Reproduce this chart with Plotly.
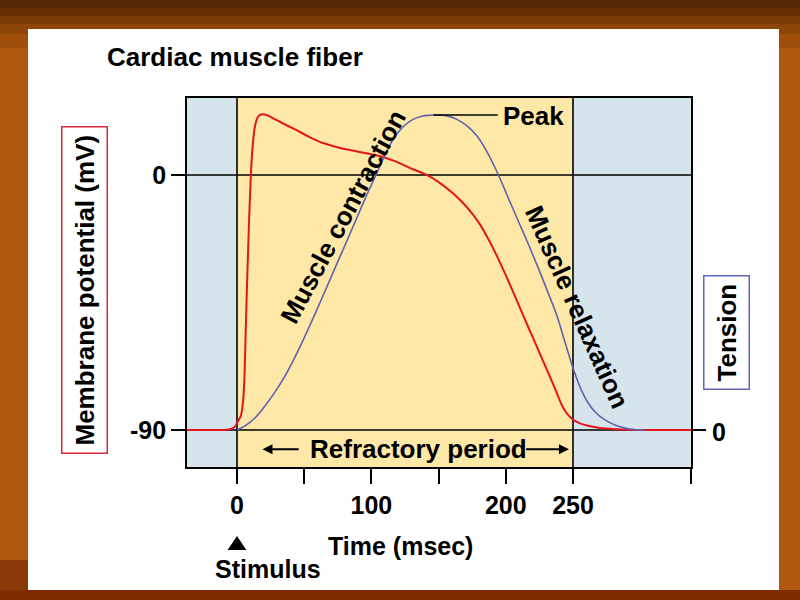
import plotly.graph_objects as go

# ---------------- data ----------------
mp_time = [-40, -20, -10, -6, -3, -1, 0, 1.5, 3, 4.5, 5.5, 6.5, 7.5, 9, 10.5, 12, 13.5, 15, 17, 20,
           23, 27, 35, 44, 54, 64, 74, 84, 95, 106, 118, 130, 140, 150, 160, 168, 175, 181, 187,
           193, 199, 205, 211, 217, 223, 229, 234, 238, 241, 244, 247, 250, 254, 258, 263, 268, 275,
           282, 292, 305, 340]
mp_values = [-90, -90, -90, -89.8, -89.3, -88.5, -87.5, -86.3, -84.8, -80, -72, -55, -38, -16, 2, 12,
             17.5, 20, 21.2, 21.4, 21, 20, 18, 15.9, 13.4, 11.3, 9.9, 8.8, 7.8, 6.7, 4.8, 2.2, 0.3,
             -2.5, -6.2, -9.8, -13.6, -17.6, -22.6, -28.2, -34.3, -40.8, -47.4, -54, -60.5, -67,
             -72.5, -77, -80.5, -83.2, -85, -86.3, -87.4, -88.1, -88.7, -89.1, -89.5, -89.7, -89.9,
             -90, -90]

tension_time = [0, 5.9, 13.4, 20.8, 28.3, 35.7, 43.2, 50.6, 58.0, 65.5, 72.9, 80.4, 87.8, 95.2, 102.7,
                108.6, 113.8, 119.0, 125.0, 131.0, 137.6, 143.6, 148.8, 156.3, 163.7, 171.1, 178.6,
                186.0, 193.5, 200.9, 208.3, 215.8, 223.2, 230.7, 238.1, 244.0, 250.0, 255.2, 260.4,
                266.4, 273.8, 281.3, 288.7, 296.1, 303.6]
tension_values = [0, 1.3, 3.8, 7.6, 12.1, 17.1, 23.2, 29.8, 36.8, 44.1, 51.4, 58.7, 66.0, 73.3, 80.3,
                  86.0, 90.5, 94.0, 96.8, 98.6, 99.6, 99.9, 100, 99.7, 98.6, 96.5, 93.3, 88.3, 81.9,
                  74.6, 67.3, 60.0, 52.4, 44.4, 36.2, 27.9, 19.7, 13.7, 9.2, 5.7, 3.2, 1.6, 0.6,
                  0.1, 0]

x_tickvals = [0, 50, 100, 150, 200, 250]
x_ticktext = ["0", "", "100", "", "200", "250"]
mp_tickvals = [0, -90]
mp_ticktext = ["0", "-90"]
stimulus_time = 0

# ---------------- layout geometry ----------------
W, H = 800, 600
L, R, T, B = 187, 691, 98, 467
X_RANGE = [-37.2, 337.8]
Y_RANGE = [-103.06, 27.18]
# tension axis: 0 aligned with -90 mV, 100 aligned with peak (~21.2 mV)
mv_per_unit = (21.2 + 90) / 100.0
Y2_RANGE = [(Y_RANGE[0] + 90) / mv_per_unit, (Y_RANGE[1] + 90) / mv_per_unit]

def px(xp):
    return (xp - L) / (R - L)

def py(yp):
    return (B - yp) / (B - T)

FONT = "Liberation Sans, Arial, Helvetica, sans-serif"
YELLOW = "#fde8a8"
LBLUE = "#d6e4ec"
RED = "#e3151f"
BLUE = "#6262b0"

fig = go.Figure()
fig.add_trace(go.Scatter(x=mp_time, y=mp_values, mode="lines",
                         line=dict(color=RED, width=2, shape="spline", smoothing=0.5),
                         hoverinfo="skip", showlegend=False))
fig.add_trace(go.Scatter(x=tension_time, y=tension_values, mode="lines", yaxis="y2",
                         line=dict(color=BLUE, width=1.6, shape="spline", smoothing=1),
                         hoverinfo="skip", showlegend=False))

shapes = []
def prect(x0, y0, x1, y1, color):
    shapes.append(dict(type="rect", xref="paper", yref="paper", x0=px(x0), x1=px(x1),
                       y0=py(y1), y1=py(y0), fillcolor=color, line=dict(width=0), layer="below"))

# slide background
prect(-5, -5, 805, 605, "#b1580f")
prect(-5, -5, 805, 8, "#552703")
prect(-5, 8, 805, 16, "#663005")
prect(-5, 16, 805, 24, "#7a3a06")
prect(-5, 24, 805, 34, "#8d4508")
prect(-5, 34, 805, 48, "#a04f0b")
prect(-5, 560, 28, 605, "#8a3a06")
prect(-5, 590, 805, 605, "#7f2c02")
prect(28, 29, 779, 590, "#ffffff")

# plot regions
for x0, x1, c in [(X_RANGE[0], 0, LBLUE), (0, 250, YELLOW), (250, X_RANGE[1], LBLUE)]:
    shapes.append(dict(type="rect", xref="x", yref="paper", x0=x0, x1=x1, y0=0, y1=1,
                       fillcolor=c, line=dict(width=0), layer="below"))
for xv in [0, 250]:
    shapes.append(dict(type="line", xref="x", yref="paper", x0=xv, x1=xv, y0=0, y1=1,
                       line=dict(color="black", width=1.6), layer="below"))
shapes.append(dict(type="line", xref="paper", yref="y", x0=0, x1=1, y0=0, y1=0,
                   line=dict(color="black", width=1.6), layer="below"))
shapes.append(dict(type="line", xref="paper", yref="y", x0=0, x1=1, y0=-90, y1=-90,
                   line=dict(color="black", width=1.6), layer="below"))
# peak leader line
shapes.append(dict(type="line", xref="x", yref="y", x0=146, x1=194, y0=21.2, y1=21.2,
                   line=dict(color="black", width=1.6)))
# stimulus triangle
s = stimulus_time
shapes.append(dict(type="path", xref="x", yref="paper",
                   path=f"M {s - 7},{py(550)} L {s + 7},{py(550)} L {s},{py(536)} Z",
                   fillcolor="black", line=dict(width=0)))

annotations = []
def ann(text, x, y, size=26, xanchor="center", yanchor="middle", **kw):
    d = dict(text=text, x=x, y=y, xref="paper", yref="paper", showarrow=False,
             xanchor=xanchor, yanchor=yanchor,
             font=dict(family=FONT, size=size, color="black", weight="bold"))
    d.update(kw)
    annotations.append(d)

ann("Cardiac muscle fiber", px(105), py(57), xanchor="left")
ann("Peak", px(501), py(116), xanchor="left")
ann("Muscle contraction", px(343), py(217), textangle=-62)
ann("Muscle relaxation", px(577), py(307), textangle=66)
ann("Refractory period", px(418), py(449))
ann("Membrane potential (mV)", px(84), py(290), textangle=-90,
    bordercolor="#d42a3c", borderwidth=1.5, borderpad=7)
ann("Tension", px(726), py(333), textangle=-90,
    bordercolor="#6464bb", borderwidth=1.5, borderpad=7)
ann("0", px(710), py(432), xanchor="left", size=25)
ann("Stimulus", px(268), py(569), size=25)
ann("Time (msec)", px(400), py(546), size=25)

# refractory arrows
for x_head, x_tail in [(19, 47), (247, 214)]:
    annotations.append(dict(x=x_head, y=-96.8, ax=x_tail, ay=-96.8, xref="x", yref="y",
                            axref="x", ayref="y", text="", showarrow=True, arrowhead=2,
                            arrowsize=1, arrowwidth=2, arrowcolor="black"))

tickfont = dict(family=FONT, size=25, color="black", weight="bold")
fig.update_layout(
    width=W, height=H, autosize=False,
    margin=dict(l=L, r=W - R, t=T, b=H - B, pad=0),
    paper_bgcolor="#b1580f", plot_bgcolor="rgba(0,0,0,0)",
    shapes=shapes, annotations=annotations,
    xaxis=dict(range=X_RANGE, tickvals=x_tickvals + [X_RANGE[1]], ticktext=x_ticktext + [""],
               ticks="outside", ticklen=15, tickwidth=1.6, tickcolor="black",
               tickfont=tickfont, showgrid=False, zeroline=False,
               showline=True, linecolor="black", linewidth=1.6, mirror=True),
    yaxis=dict(range=Y_RANGE, tickvals=mp_tickvals, ticktext=mp_ticktext,
               ticks="outside", ticklen=14, tickwidth=1.6, tickcolor="black",
               tickfont=tickfont, showgrid=False, zeroline=False,
               showline=True, linecolor="black", linewidth=1.6, mirror=True),
    yaxis2=dict(range=Y2_RANGE, overlaying="y", side="right", anchor="x",
                tickvals=[0], ticktext=[""], ticks="outside", ticklen=14, tickwidth=1.6,
                tickcolor="black", showgrid=False, zeroline=False, showline=False),
)

fig.write_html("out.html", config={"displayModeBar": False},
               post_script="document.body.style.margin='0';")
